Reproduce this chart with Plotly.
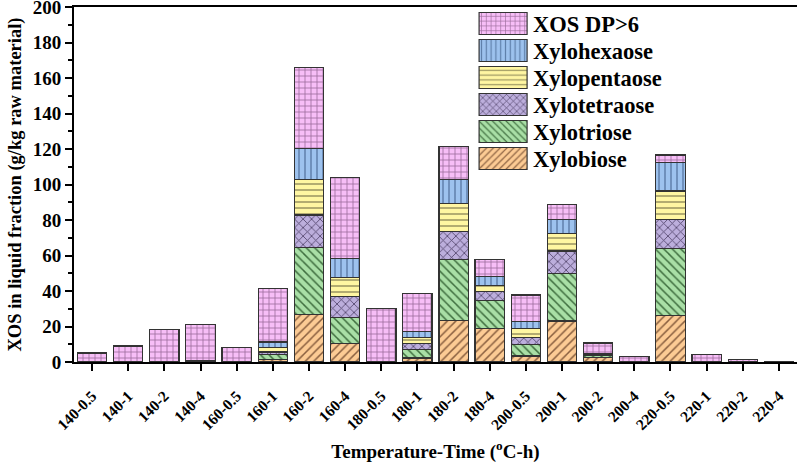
import plotly.graph_objects as go

categories = ["140-0.5", "140-1", "140-2", "140-4", "160-0.5", "160-1", "160-2", "160-4",
              "180-0.5", "180-1", "180-2", "180-4", "200-0.5", "200-1", "200-2", "200-4",
              "220-0.5", "220-1", "220-2", "220-4"]

xylobiose    = [0, 0, 0, 0.6, 0, 1.3, 26.9, 10.4, 0, 2.3, 23.5, 18.8, 3.4, 23.1, 2.5, 0, 26.4, 0.3, 0, 0]
xylotriose   = [0, 0, 0, 0, 0, 2.9, 37.6, 14.7, 0, 4.7, 34.3, 15.8, 6.4, 26.8, 1.2, 0, 37.6, 0, 0, 0]
xylotetraose = [0, 0, 0, 0, 0, 1.4, 18.3, 12.0, 0, 3.4, 15.6, 5.3, 3.8, 12.6, 0.4, 0, 16.4, 0, 0, 0]
xylopentaose = [0, 0, 0, 0, 0, 2.7, 19.9, 10.5, 0, 3.4, 16.0, 3.2, 5.2, 10.0, 0.3, 0, 15.9, 0, 0, 0]
xylohexaose  = [0, 0, 0, 0, 0, 3.0, 17.7, 10.7, 0, 3.5, 13.6, 4.9, 3.8, 7.9, 0.3, 0, 16.2, 0, 0, 0]
xos_dp6      = [5.1, 9.0, 18.1, 20.5, 8.1, 30.1, 45.5, 45.8, 30.1, 21.3, 18.3, 9.8, 15.2, 8.2, 6.0, 3.0, 4.1, 3.9, 1.4, 0]

series = [
    ("Xylobiose", xylobiose, "#FCCB94", "#8a6040", "/"),
    ("Xylotriose", xylotriose, "#A9DFA6", "#3f6e3f", "\\"),
    ("Xylotetraose", xylotetraose, "#BCAEDC", "#4e4066", "x"),
    ("Xylopentaose", xylopentaose, "#FFF6A2", "#9a9460", "-"),
    ("Xylohexaose", xylohexaose, "#9DC2EE", "#5f80ab", "|"),
    ("XOS DP>6", xos_dp6, "#F7BEF7", "#9a6c9a", "+"),
]

FONT = "Liberation Serif, Times New Roman, serif"

fig = go.Figure()
for name, vals, col, fg, shape in series:
    fig.add_trace(go.Bar(
        x=categories, y=vals, name=name,
        marker=dict(color=col, line=dict(color="#333333", width=1.2),
                    pattern=dict(shape=shape, fgcolor=fg, bgcolor=col,
                                 size=6, solidity=0.25, fillmode="replace")),
    ))

fig.update_layout(
    barmode="stack",
    bargap=0.19,
    width=797, height=464,
    margin=dict(l=74, r=0, t=7, b=102),
    plot_bgcolor="white", paper_bgcolor="white",
    font=dict(family=FONT, size=17, color="black", weight="bold"),
    showlegend=True,
    legend=dict(traceorder="reversed", x=0.552, xanchor="left", y=1.013, yanchor="top",
                font=dict(family=FONT, size=22.5, color="black", weight="bold"),
                itemwidth=50, bgcolor="rgba(0,0,0,0)", tracegroupgap=0),
    xaxis=dict(
        showline=True, linecolor="black", linewidth=2, mirror=True,
        ticks="outside", ticklen=7, tickwidth=2, tickcolor="black",
        tickangle=-45, tickfont=dict(family=FONT, size=15.5, weight="bold"),
        ticklabelstandoff=10,
        title=dict(text="Temperature-Time (<sup>o</sup>C-h)", standoff=12,
                   font=dict(family=FONT, size=19, weight="bold")),
        showgrid=False, automargin=False,
    ),
    yaxis=dict(
        range=[0, 200.0001], dtick=20, tick0=0,
        showline=True, linecolor="black", linewidth=2,
        ticks="outside", ticklen=7, tickwidth=2, tickcolor="black",
        minor=dict(ticks="outside", ticklen=4, tickwidth=1.5, tickcolor="black", dtick=10, showgrid=False),
        tickfont=dict(family=FONT, size=19, weight="bold"),
        ticklabeloverflow="allow",
        title=dict(text="XOS in liquid fraction (g/kg raw material)", standoff=6,
                   font=dict(family=FONT, size=18.5, weight="bold")),
        showgrid=False, zeroline=False, automargin=False,
    ),
)

post = """
document.body.style.margin = '0';
document.body.style.padding = '0';
var gd = document.getElementById('{plot_id}');
function fixLegend(){
  var paths = gd.querySelectorAll('.legend path.legendbar, .legend path.legendundefined');
  paths.forEach(function(p){ p.setAttribute('d','M24,11H-24V-11H24Z'); });
  var items = Array.prototype.slice.call(gd.querySelectorAll('.legend g.traces'));
  if (!items.length) return;
  var ys = items.map(function(g){
    var t = g.getAttribute('transform') || '';
    var m = t.match(/translate\\(([-\\d.e]+)[ ,]+([-\\d.e]+)\\)/);
    return m ? [parseFloat(m[1]), parseFloat(m[2])] : [0, 0];
  });
  var order = ys.map(function(v,i){return i;}).sort(function(a,b){return ys[a][1]-ys[b][1];});
  var y0 = ys[order[0]][1];
  order.forEach(function(idx, k){
    items[idx].setAttribute('transform', 'translate(' + ys[idx][0] + ',' + (y0 + k*27) + ')');
  });
}
fixLegend();
if (gd.on) { gd.on('plotly_afterplot', fixLegend); }
"""

fig.write_html("out.html", post_script=post, config={"displayModeBar": False})
